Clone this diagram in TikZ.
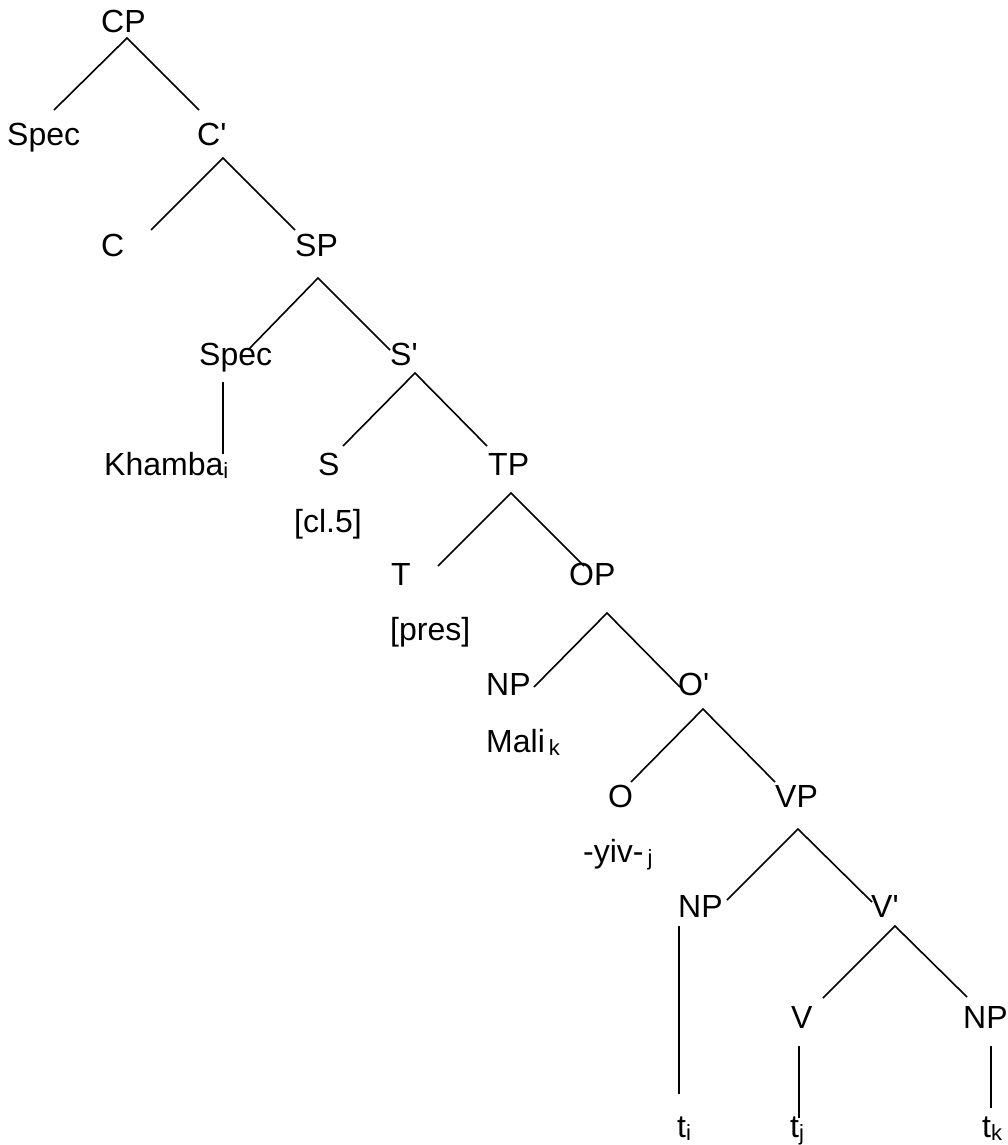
\documentclass[tikz,border=0pt]{standalone}
\usepackage{fontspec}
\setmainfont{Liberation Sans}
\newcommand\subidx[1]{\raisebox{-0.12em}{\fontsize{22}{22}\selectfont #1}}
\newcommand\pr{\textquotesingle}
\begin{document}
\begin{tikzpicture}[x=1pt,y=-1pt,
  lab/.style={anchor=base west,inner sep=0pt,font=\fontsize{32}{32}\selectfont},
  branch/.style={line width=1.6pt,line cap=butt}]
\useasboundingbox (0,0) rectangle (1008,1145);

% category labels and terminals
\node[lab] (cp)     at (101,33)   {CP};
\node[lab] (spec1)  at (7,145)    {Spec};
\node[lab] (cbar)   at (197,145)  {C\pr};
\node[lab] (c)      at (101,256)  {C};
\node[lab] (sp)     at (295,256)  {SP};
\node[lab] (spec2)  at (199,365)  {Spec};
\node[lab] (sbar)   at (390,365)  {S\pr};
\node[lab] (khamba) at (104,475)  {Khamba\subidx{i}};
\node[lab] (s)      at (318,475)  {S};
\node[lab] (tp)     at (488,475)  {TP};
\node[lab] (cl)     at (294,532)  {[cl.5]};
\node[lab] (t)      at (391,585)  {T};
\node[lab] (op)     at (569,585)  {OP};
\node[lab] (pres)   at (390,640)  {[pres]};
\node[lab] (np1)    at (486,695)  {NP};
\node[lab] (obar)   at (678,695)  {O\pr};
\node[lab] (mali)   at (486,752)  {Mali\hspace{4pt}\subidx{k}};
\node[lab] (o)      at (608,807)  {O};
\node[lab] (vp)     at (775,807)  {VP};
\node[lab] (yiv)    at (583,862)  {-yiv-\hspace{4pt}\subidx{j}};
\node[lab] (np2)    at (678,917)  {NP};
\node[lab] (vbar)   at (871,917)  {V\pr};
\node[lab] (v)      at (791,1028) {V};
\node[lab] (np3)    at (963,1028) {NP};
\node[lab] (ti)     at (677,1137) {t\subidx{i}};
\node[lab] (tj)     at (790,1137) {t\subidx{j}};
\node[lab] (tk)     at (982,1137) {t\subidx{k}};

% branch end points
\coordinate (cp-a)    at (127,38);
\coordinate (cp-l)    at (54,110);
\coordinate (cp-r)    at (199,110);
\coordinate (cbar-a)  at (223,158);
\coordinate (cbar-l)  at (151,230);
\coordinate (cbar-r)  at (295,230);
\coordinate (sp-a)    at (318,278);
\coordinate (sp-l)    at (248,350);
\coordinate (sp-r)    at (390,350);
\coordinate (spec-t)  at (223,382);
\coordinate (spec-b)  at (223,454);
\coordinate (sbar-a)  at (415,373);
\coordinate (sbar-l)  at (343,446);
\coordinate (sbar-r)  at (487,446);
\coordinate (tp-a)    at (511,493);
\coordinate (tp-l)    at (438,566);
\coordinate (tp-r)    at (584,566);
\coordinate (op-a)    at (607,613);
\coordinate (op-l)    at (534,687);
\coordinate (op-r)    at (680,687);
\coordinate (obar-a)  at (703,709);
\coordinate (obar-l)  at (631,782);
\coordinate (obar-r)  at (775,782);
\coordinate (vp-a)    at (798,829);
\coordinate (vp-l)    at (727,900);
\coordinate (vp-r)    at (872,902);
\coordinate (np-t)    at (679,926);
\coordinate (np-b)    at (679,1094);
\coordinate (vbar-a)  at (895,926);
\coordinate (vbar-l)  at (823,998);
\coordinate (vbar-r)  at (967,997);
\coordinate (v-t)     at (799,1046);
\coordinate (v-b)     at (799,1118);
\coordinate (np3-t)   at (991,1046);
\coordinate (np3-b)   at (991,1108);

% branches
\draw[branch] (cp-l) -- (cp-a) -- (cp-r);
\draw[branch] (cbar-l) -- (cbar-a) -- (cbar-r);
\draw[branch] (sp-l) -- (sp-a) -- (sp-r);
\draw[branch] (spec-t) -- (spec-b);
\draw[branch] (sbar-l) -- (sbar-a) -- (sbar-r);
\draw[branch] (tp-l) -- (tp-a) -- (tp-r);
\draw[branch] (op-l) -- (op-a) -- (op-r);
\draw[branch] (obar-l) -- (obar-a) -- (obar-r);
\draw[branch] (vp-l) -- (vp-a) -- (vp-r);
\draw[branch] (np-t) -- (np-b);
\draw[branch] (vbar-l) -- (vbar-a) -- (vbar-r);
\draw[branch] (v-t) -- (v-b);
\draw[branch] (np3-t) -- (np3-b);
\end{tikzpicture}
\end{document}
